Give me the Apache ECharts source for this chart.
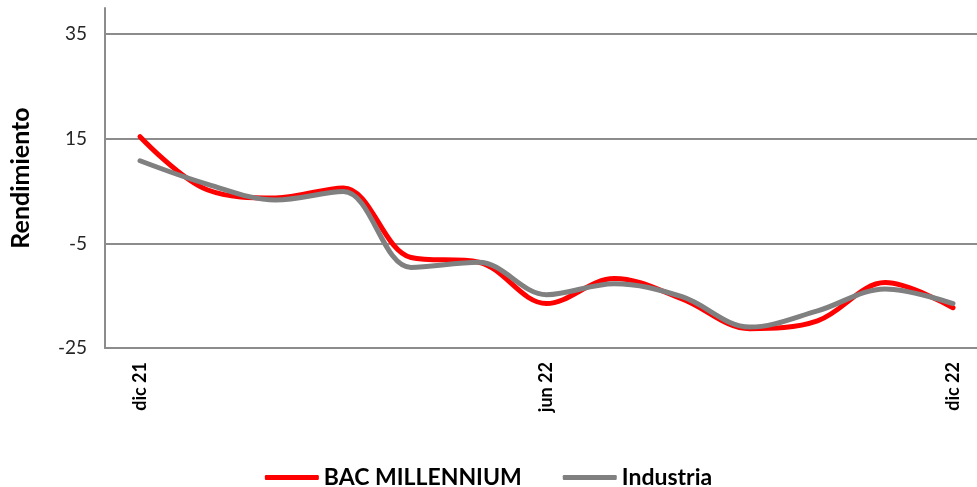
<!DOCTYPE html>
<html>
<head>
<meta charset="utf-8">
<script src="https://cdn.jsdelivr.net/npm/echarts@6/dist/echarts.min.js"></script>
<style>
  html, body { margin: 0; padding: 0; background: #fff; }
  #chart { width: 977px; height: 487px; }
</style>
</head>
<body>
<div id="chart"></div>
<script>
// Monthly returns, Dec 2021 – Dec 2022
const months = ['dic 21', 'ene 22', 'feb 22', 'mar 22', 'abr 22', 'may 22', 'jun 22',
                'jul 22', 'ago 22', 'sep 22', 'oct 22', 'nov 22', 'dic 22'];
const shownMonths = ['dic 21', 'jun 22', 'dic 22'];
const bacMillennium = [15.4, 5.2, 3.7, 5.6, -7.7, -8.6, -16.5, -11.7, -15.6, -21.3, -19.8, -12.5, -17.3];
const industria = [10.8, 6.3, 3.3, 4.9, -9.6, -8.6, -14.8, -12.7, -15.2, -21.0, -17.9, -13.7, -16.5];
const yTicks = [-25, -5, 15, 35];

const FONT = 'Lato, "Open Sans", sans-serif';
const toPairs = arr => arr.map((v, i) => [i, v]);

const chart = echarts.init(document.getElementById('chart'), null, { renderer: 'canvas' });
chart.setOption({
  animation: false,
  backgroundColor: '#ffffff',
  grid: { left: 105, right: 0, top: 8, bottom: 139, containLabel: false },
  legend: {
    left: 'center',
    top: 461,
    icon: 'roundRect',
    itemWidth: 54,
    itemHeight: 5,
    itemGap: 41,
    textStyle: { fontFamily: FONT, fontSize: 23, fontWeight: 'bold', color: '#000' },
    data: ['BAC MILLENNIUM', 'Industria']
  },
  xAxis: {
    type: 'value',
    min: -0.517,
    max: 12.354,
    axisLine: { show: true, onZero: false, lineStyle: { color: '#8c8c8c', width: 2 } },
    axisTick: { show: false },
    splitLine: { show: false },
    axisLabel: {
      customValues: shownMonths.map(m => months.indexOf(m)),
      formatter: v => months[Math.round(v)] || '',
      rotate: 90,
      margin: 14,
      fontFamily: FONT,
      fontSize: 18,
      fontWeight: 'bold',
      color: '#000'
    }
  },
  yAxis: {
    type: 'value',
    min: -25,
    max: 40,
    interval: 20,
    name: 'Rendimiento',
    nameLocation: 'middle',
    nameGap: 72,
    nameRotate: 90,
    nameTextStyle: { fontFamily: FONT, fontSize: 25, fontWeight: 'bold', color: '#000' },
    axisLine: { show: true, onZero: false, lineStyle: { color: '#8c8c8c', width: 2 } },
    axisTick: { show: false },
    axisLabel: {
      customValues: yTicks,
      margin: 18,
      fontFamily: FONT,
      fontSize: 19,
      color: '#262626'
    },
    splitLine: {
      show: true,
      showMaxLine: false,
      lineStyle: { color: '#8c8c8c', width: 2 }
    }
  },
  series: [
    {
      name: 'BAC MILLENNIUM',
      type: 'line',
      data: toPairs(bacMillennium),
      smooth: 0.35,
      symbol: 'none',
      lineStyle: { color: '#ff0000', width: 5, cap: 'round' },
      itemStyle: { color: '#ff0000' },
      z: 2
    },
    {
      name: 'Industria',
      type: 'line',
      data: toPairs(industria),
      smooth: 0.35,
      symbol: 'none',
      lineStyle: { color: '#808080', width: 5, cap: 'round' },
      itemStyle: { color: '#808080' },
      z: 3
    }
  ]
});
</script>
</body>
</html>
